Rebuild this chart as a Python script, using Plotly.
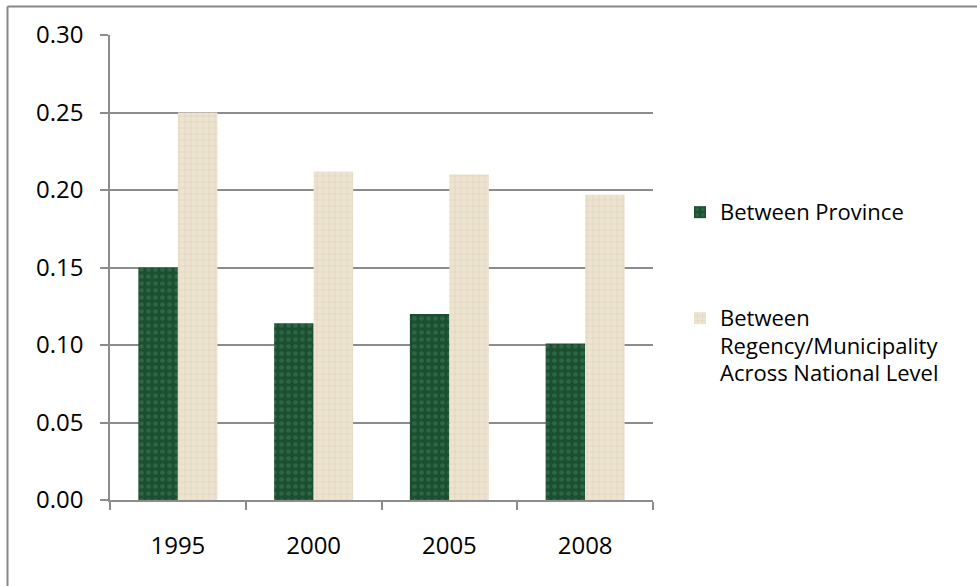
import plotly.graph_objects as go

years = ["1995", "2000", "2005", "2008"]
between_province = [0.150, 0.114, 0.120, 0.101]
between_regency = [0.250, 0.212, 0.210, 0.197]
province_lines = ["Between Province"]
regency_lines = ["Between", "Regency/Municipality", "Across National Level"]
y_ticks = [0.00, 0.05, 0.10, 0.15, 0.20, 0.25, 0.30]

W, H = 977, 586
ML, MR, MT, MB = 110, 324, 35, 86
PW, PH = W - ML - MR, H - MT - MB

GRID = "#8c8c8c"
FONT = "Open Sans"
LEGEND_TEXT_PX = 22    # glyph size of legend labels
LEGEND_LINE_FONT = 21  # sets the line pitch of wrapped labels


def px_x(px):
    return (px - ML) / PW


def px_y(py):
    return (H - MB - py) / PH


def legend_label(lines):
    return "<br>".join(
        f'<span style="font-size:{LEGEND_TEXT_PX}px">{s}</span>' for s in lines
    )


fig = go.Figure()
fig.add_trace(go.Bar(
    x=years, y=between_province, name=legend_label(province_lines),
    legend="legend",
    marker=dict(
        color="#21553a",
        line=dict(width=0),
        pattern=dict(shape=".", fgcolor="#3f7d55", bgcolor="#1c4f30",
                     size=7, solidity=0.35),
    ),
))
fig.add_trace(go.Bar(
    x=years, y=between_regency, name=legend_label(regency_lines),
    legend="legend2",
    marker=dict(
        color="#e9dfc9",
        line=dict(width=0),
        pattern=dict(shape="+", fgcolor="#d3c7ac", bgcolor="#ede4d0",
                     size=6, solidity=0.25),
    ),
))

# outer frame (top and left edges visible)
fig.add_shape(type="line", xref="paper", yref="paper",
              x0=px_x(7.5), x1=px_x(W + 5), y0=px_y(6.5), y1=px_y(6.5),
              line=dict(color="#888888", width=2))
fig.add_shape(type="line", xref="paper", yref="paper",
              x0=px_x(7.5), x1=px_x(7.5), y0=px_y(6.5), y1=px_y(H + 5),
              line=dict(color="#888888", width=2))

fig.update_layout(
    width=W, height=H,
    margin=dict(l=ML, r=MR, t=MT, b=MB),
    paper_bgcolor="white", plot_bgcolor="white",
    font=dict(family=FONT, size=22, color="black"),
    barmode="group", bargap=0.418, bargroupgap=0,
    showlegend=True,
    legend=dict(
        x=px_x(680), y=px_y(192), xanchor="left", yanchor="top",
        font=dict(family=FONT, size=LEGEND_LINE_FONT, color="black"),
        bgcolor="rgba(0,0,0,0)", valign="top",
    ),
    legend2=dict(
        x=px_x(680), y=px_y(298), xanchor="left", yanchor="top",
        font=dict(family=FONT, size=LEGEND_LINE_FONT, color="black"),
        bgcolor="rgba(0,0,0,0)", valign="top",
    ),
    xaxis=dict(
        type="category", tickson="boundaries",
        ticks="outside", ticklen=8, tickcolor=GRID, tickwidth=1.5,
        showline=True, linecolor=GRID, linewidth=1.5,
        showgrid=False, ticklabelstandoff=23,
        tickfont=dict(family=FONT, size=24),
    ),
    yaxis=dict(
        range=[0, 0.3], tickvals=y_ticks, tickformat=".2f",
        ticks="outside", ticklen=8, tickcolor=GRID, tickwidth=1.5,
        showline=True, linecolor=GRID, linewidth=1.5,
        showgrid=True, gridcolor=GRID, gridwidth=1.5,
        zeroline=False, ticklabelstandoff=12,
        tickfont=dict(family=FONT, size=24),
    ),
)

fig.write_html("out.html")
